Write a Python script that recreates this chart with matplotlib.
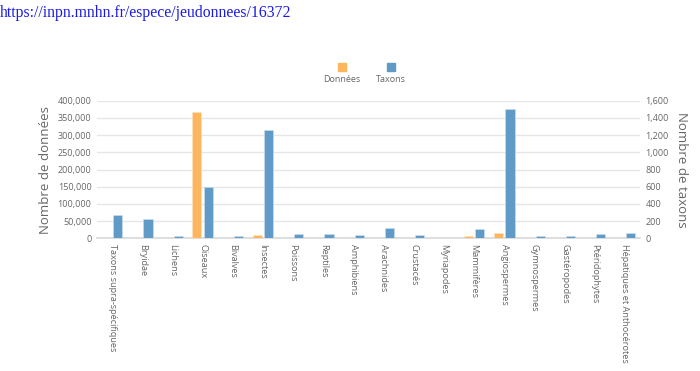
import matplotlib.pyplot as plt
import numpy as np
from matplotlib.patches import Rectangle
from matplotlib.ticker import FuncFormatter

# Données
categories = ["Taxons supra-spécifiques", "Bryidae", "Lichens", "Oiseaux", "Bivalves",
              "Insectes", "Poissons", "Reptiles", "Amphibiens", "Arachnides", "Crustacés",
              "Myriapodes", "Mammifères", "Angiospermes", "Gymnospermes", "Gastéropodes",
              "Ptéridophytes", "Hépatiques et Anthocérotes"]
donnees = [2000, 2000, 0, 367000, 0, 9600, 0, 2000, 2000, 0, 0, 0, 7800, 14500, 0, 0, 0, 0]
taxons = [270, 224, 22, 598, 22, 1264, 46, 46, 38, 118, 38, 0, 108, 1507, 27, 27, 46, 62]

c_donnees = '#FDB55E'
c_taxons = '#5F9BC6'
gris = '#666666'

plt.rcParams['font.family'] = ['Open Sans', 'DejaVu Sans']

fig = plt.figure(figsize=(7, 3.71), dpi=100)
ax = fig.add_axes([97 / 700, 1 - 238.3 / 371, 543 / 700, 137.6 / 371])
ax2 = ax.twinx()

x = np.arange(len(categories))
w = 0.3
ax.bar(x - 0.19, donnees, w, color=c_donnees, edgecolor='#FDE3C0', linewidth=0.4, zorder=3)
ax2.bar(x + 0.19, taxons, w, color=c_taxons, edgecolor='#CFE1EF', linewidth=0.4, zorder=3)

ax.set_xlim(-0.5, len(categories) - 0.5)
ax.set_ylim(0, 400000)
ax2.set_ylim(0, 1600)
ax.set_yticks(np.arange(0, 400001, 50000))
ax2.set_yticks(np.arange(0, 1601, 200))
fmt = FuncFormatter(lambda v, p: f"{int(v):,}")
ax.yaxis.set_major_formatter(fmt)
ax2.yaxis.set_major_formatter(fmt)

ax.grid(axis='y', color='#E6E6E6', linewidth=1, zorder=0)
ax.set_axisbelow(True)
for a in (ax, ax2):
    for s in a.spines.values():
        s.set_visible(False)
    a.tick_params(length=0, labelsize=6.5, colors=gris, pad=4)
ax.spines['bottom'].set_visible(True)
ax.spines['bottom'].set_color('#D8D8D8')
ax.spines['bottom'].set_linewidth(1.2)

ax.set_xticks(x)
ax.set_xticklabels(categories, rotation=270, fontsize=6.6, color=gris, ha='center', va='top')
ax.tick_params(axis='x', pad=4)

ax.set_ylabel("Nombre de données", fontsize=9.5, color=gris, labelpad=4)
ax2.set_ylabel("Nombre de taxons", fontsize=9.5, color=gris, rotation=270, labelpad=14)

# légende : carrés au-dessus des libellés
for cx, col, lab in [(342, c_donnees, "Données"), (391, c_taxons, "Taxons")]:
    fig.patches.append(Rectangle(((cx - 4) / 700, 1 - 71 / 371), 8 / 700, 8 / 371,
                                 transform=fig.transFigure, color=col))
    fig.text(cx / 700, 1 - 80 / 371, lab, fontsize=6.5, color=gris, ha='center', va='center')

fig.text(0.0, 1 - 13 / 371, "https://inpn.mnhn.fr/espece/jeudonnees/16372",
         family='Liberation Serif', fontsize=11.3, color='#1A1AE6', ha='left', va='center')

fig.savefig('out.png', dpi=100)
